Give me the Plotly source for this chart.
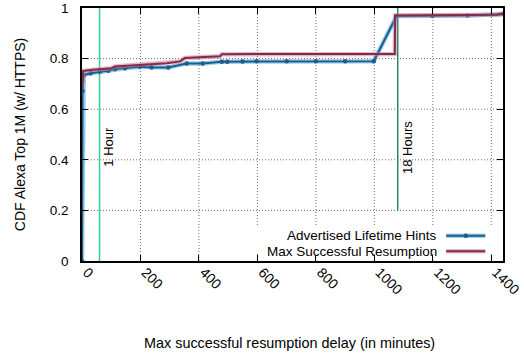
import plotly.graph_objects as go

# Advertised lifetime hints (minutes -> CDF)
hint_minutes = [0, 2, 6, 30, 61, 90, 113, 147, 198, 238, 295, 358, 413, 478, 497,
                549, 597, 700, 800, 900, 998, 1076, 1199, 1318, 1440]
hint_cdf = [0.0, 0.672, 0.735, 0.742, 0.748, 0.752, 0.759, 0.762, 0.768, 0.765,
            0.765, 0.781, 0.781, 0.788, 0.788, 0.789, 0.790, 0.790, 0.790, 0.790,
            0.790, 0.968, 0.968, 0.970, 0.976]

# Maximum successful resumption delay (minutes -> CDF)
resume_minutes = [0, 4, 39, 101, 113, 170, 198, 290, 335, 352, 472, 478, 609,
                  1000, 1070, 1071, 1300, 1420, 1440]
resume_cdf = [0.69, 0.751, 0.756, 0.762, 0.769, 0.773, 0.776, 0.782, 0.789,
              0.802, 0.809, 0.817, 0.818, 0.818, 0.818, 0.970, 0.971, 0.973, 0.977]

x_ticks = [0, 200, 400, 600, 800, 1000, 1200, 1400]
y_ticks = [0, 0.2, 0.4, 0.6, 0.8, 1]
y_tick_text = ["0", "0.2", "0.4", "0.6", "0.8", "1"]

X_MAX = 1440
ONE_HOUR = 60
EIGHTEEN_HOURS = 1080

BLUE = "#1a5e8e"
BLUE_HALO = "rgba(80,160,215,0.55)"
MAROON = "#862a4c"
MAROON_HALO = "rgba(200,130,155,0.55)"
GRID = "#6e6e6e"
FONT = "Liberation Sans, Arial, Helvetica, sans-serif"

fig = go.Figure()

# dotted grid at the tick positions
grid_line = dict(color=GRID, width=1, dash="1px,2px")
for xv in x_ticks[1:]:
    fig.add_shape(type="line", xref="x", yref="y", x0=xv, x1=xv, y0=0, y1=1,
                  line=grid_line, layer="below")
for yv in y_ticks[1:-1]:
    fig.add_shape(type="line", xref="x", yref="y", x0=0, x1=X_MAX, y0=yv, y1=yv,
                  line=grid_line, layer="below")

# reference lines
fig.add_shape(type="line", xref="x", yref="y", x0=ONE_HOUR, x1=ONE_HOUR,
              y0=0, y1=1, line=dict(color="#38cc98", width=1.5), layer="below")
fig.add_shape(type="line", xref="x", yref="y", x0=EIGHTEEN_HOURS, x1=EIGHTEEN_HOURS,
              y0=0.2, y1=1, line=dict(color="#17806a", width=1.4), layer="below")
fig.add_annotation(x=ONE_HOUR, y=0.365, xref="x", yref="y", text="1 Hour",
                   textangle=-90, showarrow=False, xanchor="left", yanchor="bottom",
                   font=dict(family=FONT, size=13, color="black"))
fig.add_annotation(x=EIGHTEEN_HOURS, y=0.335, xref="x", yref="y", text="18 Hours",
                   textangle=-90, showarrow=False, xanchor="left", yanchor="bottom",
                   font=dict(family=FONT, size=13, color="black"))

# blue series (halo + core with markers)
fig.add_trace(go.Scatter(x=hint_minutes, y=hint_cdf, mode="lines",
                         line=dict(color=BLUE_HALO, width=4.5),
                         hoverinfo="skip", showlegend=False))
fig.add_trace(go.Scatter(x=hint_minutes, y=hint_cdf, mode="lines+markers",
                         line=dict(color=BLUE, width=2),
                         marker=dict(color=BLUE, size=4.5),
                         name="Advertised Lifetime Hints", showlegend=False))
# maroon series
fig.add_trace(go.Scatter(x=resume_minutes, y=resume_cdf, mode="lines",
                         line=dict(color=MAROON_HALO, width=4.5),
                         hoverinfo="skip", showlegend=False))
fig.add_trace(go.Scatter(x=resume_minutes, y=resume_cdf, mode="lines",
                         line=dict(color=MAROON, width=2),
                         name="Max Successful Resumption", showlegend=False))

# key box
fig.add_shape(type="rect", xref="paper", yref="paper", x0=0.38, x1=0.995,
              y0=0.03, y1=0.138, fillcolor="white", line=dict(width=0),
              layer="above")
key_rows = [("Advertised Lifetime Hints", BLUE, BLUE_HALO, True, 0.100),
            ("Max Successful Resumption", MAROON, MAROON_HALO, False, 0.039)]
for label, col, halo, marked, yy in key_rows:
    fig.add_annotation(x=0.845, y=yy, xref="paper", yref="paper", text=label,
                       showarrow=False, xanchor="right", yanchor="middle",
                       borderpad=0,
                       font=dict(family=FONT, size=13.5, color="black"))
    fig.add_shape(type="line", xref="paper", yref="paper", x0=0.865, x1=0.958,
                  y0=yy, y1=yy, line=dict(color=halo, width=4.5), layer="above")
    fig.add_shape(type="line", xref="paper", yref="paper", x0=0.865, x1=0.958,
                  y0=yy, y1=yy, line=dict(color=col, width=2), layer="above")
    if marked:
        fig.add_shape(type="circle", xref="paper", yref="paper",
                      x0=0.9115 - 0.0055, x1=0.9115 + 0.0055,
                      y0=yy - 0.009, y1=yy + 0.009,
                      fillcolor=col, line=dict(width=0), layer="above")

# axis titles
fig.add_annotation(x=0.493, y=-0.325, xref="paper", yref="paper",
                   text="Max successful resumption delay (in minutes)",
                   showarrow=False, xanchor="center", yanchor="middle",
                   font=dict(family=FONT, size=14.4, color="black"))
fig.add_annotation(x=-0.148, y=0.5, xref="paper", yref="paper",
                   text="CDF Alexa Top 1M (w/ HTTPS)", textangle=-90,
                   showarrow=False, xanchor="center", yanchor="middle",
                   font=dict(family=FONT, size=14, color="black"))

fig.update_xaxes(range=[0, X_MAX], tickvals=x_ticks, tickangle=45,
                 ticks="inside", ticklen=6, tickcolor="black", mirror="ticks",
                 showline=True, linecolor="black", linewidth=1.5,
                 showgrid=False, zeroline=False, automargin=False,
                 ticklabelstandoff=-4, ticklabelshift=5,
                 tickfont=dict(family=FONT, size=14, color="black"))
fig.update_yaxes(range=[0, 1], tickvals=y_ticks, ticktext=y_tick_text,
                 ticks="inside", ticklen=6, tickcolor="black", mirror="ticks",
                 showline=True, linecolor="black", linewidth=1.5,
                 showgrid=False, zeroline=False, automargin=False,
                 ticklabelstandoff=9,
                 tickfont=dict(family=FONT, size=13.5, color="black"))

fig.update_layout(width=524, height=356,
                  margin=dict(l=82, r=21, t=8, b=95, autoexpand=False),
                  paper_bgcolor="white", plot_bgcolor="white",
                  showlegend=False)

fig.write_html("out.html")
